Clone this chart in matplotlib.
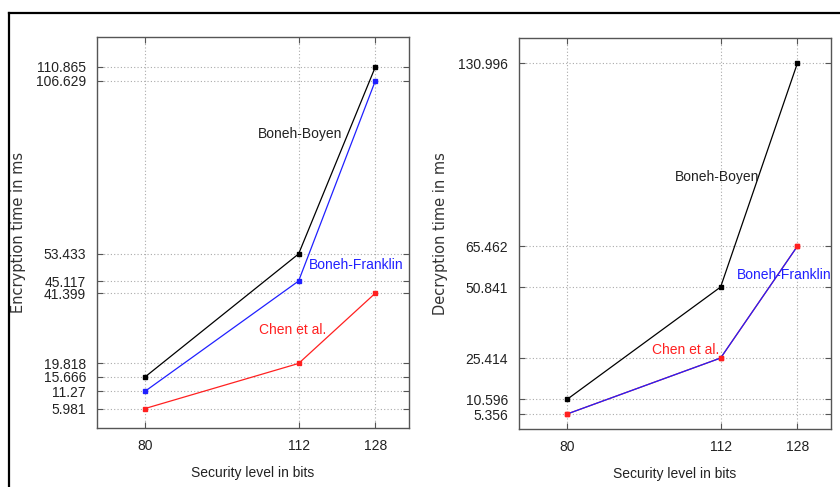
import matplotlib
matplotlib.use("Agg")
import matplotlib.pyplot as plt
from matplotlib.lines import Line2D

# security levels (bits)
levels = [80, 112, 128]

# encryption times in ms
enc_boyen = [15.666, 53.433, 110.865]
enc_franklin = [11.27, 45.117, 106.629]
enc_chen = [5.981, 19.818, 41.399]

# decryption times in ms
dec_boyen = [10.596, 50.841, 130.996]
dec_franklin = [5.356, 25.414, 65.462]
dec_chen = [5.356, 25.414, 65.462]

narrow = ['Liberation Sans', 'DejaVu Sans']

fig = plt.figure(figsize=(8.4, 4.87), dpi=100)
fig.patch.set_facecolor('white')


def style_axes(ax, yticks, ylim, ylabel):
    ax.set_xlim(70, 135)
    ax.set_ylim(*ylim)
    ax.set_xticks(levels)
    ax.set_xticklabels([str(v) for v in levels], family=narrow, fontsize=10)
    ax.set_yticks(yticks)
    ax.set_yticklabels([str(v) for v in yticks], family=narrow, fontsize=10)
    ax.grid(True, linestyle=(0, (1, 2)), color='#aaaaaa', linewidth=0.8)
    ax.tick_params(direction='in', length=4, top=True, right=True, pad=8,
                   color='#555555', labelcolor='#222222')
    for s in ax.spines.values():
        s.set_color('#555555')
        s.set_linewidth(1.0)
    ax.set_xlabel('Security level in bits', family=narrow, fontsize=10,
                  color='#222222')
    ax.xaxis.set_label_coords(0.5, -0.098)
    ax.set_ylabel(ylabel, family='DejaVu Sans', fontsize=10.5, color='#333333')
    ax.yaxis.set_label_coords(-0.228, 0.5)


def draw(ax, ys, color, mcolor=None):
    ax.plot(levels, ys, color=color, linewidth=0.9, marker='s', markersize=3.5,
            markerfacecolor=mcolor or color, markeredgecolor=mcolor or color,
            zorder=3)


# left: encryption
ax1 = fig.add_axes([0.1155, 0.1211, 0.3714, 0.8029])
draw(ax1, enc_boyen, 'black')
draw(ax1, enc_franklin, '#2020ff')
draw(ax1, enc_chen, '#ff2020')
style_axes(ax1, sorted(enc_boyen + enc_franklin + enc_chen), (0, 120),
           'Encryption time in ms')
ax1.text(112.2, 90.2, 'Boneh-Boyen', family=narrow, fontsize=10,
         ha='center', va='center', color='#222222')
ax1.text(124.1, 50.0, 'Boneh-Franklin', family=narrow, fontsize=10,
         ha='center', va='center', color='#2020ff')
ax1.text(110.8, 30.0, 'Chen et al.', family=narrow, fontsize=10,
         ha='center', va='center', color='#ff2020')

# right: decryption
ax2 = fig.add_axes([0.6179, 0.1191, 0.3714, 0.8029])
draw(ax2, dec_boyen, 'black')
draw(ax2, dec_chen, '#ff2020')
draw(ax2, dec_franklin, '#2020ff', mcolor='#ff2020')
style_axes(ax2, sorted(set(dec_boyen + dec_franklin)), (0, 140),
           'Decryption time in ms')
ax2.text(111.2, 90.2, 'Boneh-Boyen', family=narrow, fontsize=10,
         ha='center', va='center', color='#222222')
ax2.text(125.2, 55.3, 'Boneh-Franklin', family=narrow, fontsize=10,
         ha='center', va='center', color='#2020ff')
ax2.text(104.8, 28.2, 'Chen et al.', family=narrow, fontsize=10,
         ha='center', va='center', color='#ff2020')

# outer frame lines (top and left)
top_y = 1 - 12.5 / 487
left_x = 8.5 / 840
fig.add_artist(Line2D([left_x, 1.0], [top_y, top_y], color='black', linewidth=1.6,
                      transform=fig.transFigure))
fig.add_artist(Line2D([left_x, left_x], [0, top_y], color='black', linewidth=1.6,
                      transform=fig.transFigure))

fig.savefig('out.png', dpi=100)
